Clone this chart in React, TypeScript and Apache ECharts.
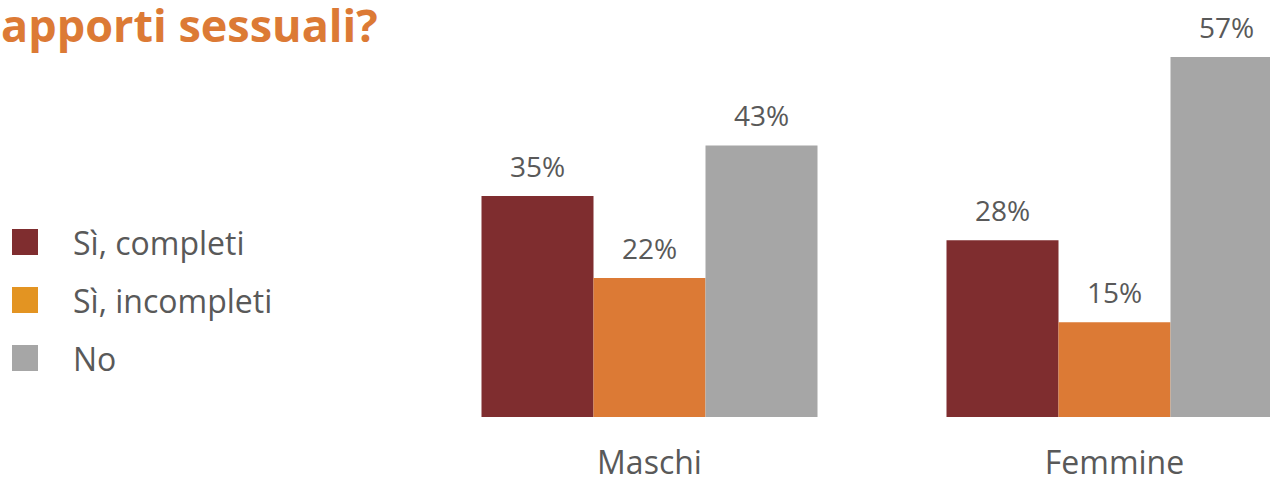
import React, { useEffect, useRef } from "react";
import * as echarts from "echarts";

const categories = ["Maschi", "Femmine"];
const seriesNames = ["Sì, completi", "Sì, incompleti", "No"];
const completi = [35, 28];
const incompleti = [22, 15];
const no = [43, 57];
const titleText = "apporti sessuali?";

const barColors = ["#7F2D2F", "#DC7A35", "#A6A6A6"];
const legendColors = ["#7F2D2F", "#E39422", "#A6A6A6"];
const FONT = "Open Sans";

export default function App() {
  const ref = useRef<HTMLDivElement>(null);
  useEffect(() => {
    if (!ref.current) return;
    const chart = echarts.init(ref.current, null, { renderer: "svg" });
    const values = [completi, incompleti, no];
    chart.setOption({
      animation: false,
      backgroundColor: "#ffffff",
      textStyle: { fontFamily: FONT },
      graphic: [
        {
          type: "text",
          x: 1,
          y: 2,
          style: {
            text: titleText,
            fontFamily: FONT,
            fontWeight: "bold",
            fontSize: 45,
            lineHeight: 45,
            fill: "#DC7A35",
            verticalAlign: "top",
          },
        },
      ],
      legend: {
        orient: "vertical",
        left: 7,
        top: 219,
        itemWidth: 26,
        itemHeight: 26,
        itemGap: 22,
        icon: "rect",
        textStyle: { fontFamily: FONT, fontSize: 32, lineHeight: 36, color: "#595959", padding: [0, 0, 0, 30] },
        data: seriesNames.map((n, i) => ({ name: n, itemStyle: { color: legendColors[i] } })),
      },
      grid: { left: 417, width: 930, top: 38, bottom: 63, containLabel: false },
      xAxis: {
        type: "category",
        data: categories,
        axisLine: { show: false },
        axisTick: { show: false },
        axisLabel: { fontFamily: FONT, fontSize: 32, lineHeight: 28, color: "#595959", margin: 30 },
      },
      yAxis: { type: "value", min: 0, max: 60, show: false, splitLine: { show: false } },
      series: seriesNames.map((n, i) => ({
        name: n,
        type: "bar",
        data: values[i],
        barWidth: 112,
        barGap: "0%",
        itemStyle: { color: barColors[i] },
        label: {
          show: true,
          position: "top",
          distance: 16,
          formatter: "{c}%",
          fontFamily: FONT,
          fontSize: 28,
          color: "#595959",
        },
      })),
    });
    return () => chart.dispose();
  }, []);
  return (
    <div style={{ position: "fixed", left: 0, top: 0, width: 1270, height: 480, overflow: "hidden" }}>
      <div ref={ref} style={{ width: 1360, height: 480 }} />
    </div>
  );
}
